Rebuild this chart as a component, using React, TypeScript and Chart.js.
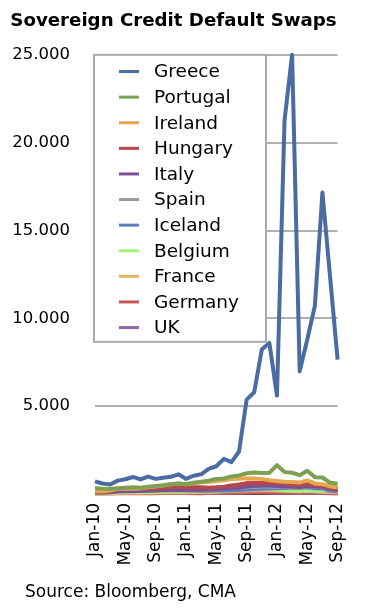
import React, { useEffect, useRef } from 'react';
import { Chart, registerables } from 'chart.js';

Chart.register(...registerables);

const FONT = '"DejaVu Sans", "Liberation Sans", Arial, sans-serif';

const monthNames = ['Jan', 'Feb', 'Mar', 'Apr', 'May', 'Jun', 'Jul', 'Aug', 'Sep', 'Oct', 'Nov', 'Dec'];
const yearSuffixes = ['10', '11', '12'];
const monthCount = 33; // Jan-10 .. Sep-12

const categories: string[] = [];
for (const y of yearSuffixes) {
  for (const m of monthNames) {
    if (categories.length < monthCount) categories.push(`${m}-${y}`);
  }
}

const tickLabels = ['Jan-10', 'May-10', 'Sep-10', 'Jan-11', 'May-11', 'Sep-11', 'Jan-12', 'May-12', 'Sep-12'];

const seriesNames = ['Greece', 'Portugal', 'Ireland', 'Hungary', 'Italy', 'Spain', 'Iceland', 'Belgium', 'France', 'Germany', 'UK'];
const seriesColors = ['#4A6CA3', '#7DA053', '#E6A84E', '#B84847', '#7A5196', '#9A9A9A', '#5A7FBF', '#A0F57D', '#E9B46A', '#C6585A', '#8D67A8'];

const greece = [720, 600, 540, 760, 840, 970, 830, 990, 860, 930, 980, 1120, 860, 1040, 1120, 1430, 1580, 2000, 1810, 2420, 5370, 5790, 8220, 8600, 5600, 21260, 25000, 6980, 8800, 10700, 17170, 12400, 7650];
const portugal = [330, 300, 280, 330, 360, 380, 360, 420, 460, 500, 560, 600, 560, 640, 700, 760, 850, 880, 1000, 1060, 1180, 1220, 1200, 1200, 1640, 1250, 1210, 1070, 1320, 960, 940, 640, 580];
const ireland = [150, 160, 200, 300, 320, 300, 320, 380, 420, 480, 550, 600, 560, 620, 660, 700, 740, 780, 850, 870, 900, 880, 860, 780, 740, 700, 680, 650, 780, 600, 560, 430, 380];
const hungary = [100, 120, 150, 300, 330, 330, 300, 310, 330, 360, 380, 420, 380, 380, 380, 360, 380, 420, 480, 540, 620, 640, 620, 660, 640, 600, 560, 520, 600, 500, 480, 360, 280];
const italy = [80, 90, 100, 140, 160, 150, 170, 180, 200, 210, 230, 240, 220, 230, 240, 260, 270, 300, 330, 360, 420, 460, 480, 500, 460, 430, 420, 400, 470, 420, 400, 300, 220];
const spain = [100, 100, 110, 150, 180, 200, 190, 200, 220, 230, 240, 280, 250, 240, 250, 260, 270, 290, 320, 340, 380, 400, 420, 430, 400, 380, 360, 370, 450, 400, 380, 280, 200];
const iceland = [260, 250, 230, 240, 250, 260, 250, 250, 240, 230, 220, 220, 210, 200, 190, 190, 200, 200, 220, 230, 260, 280, 300, 320, 330, 340, 350, 340, 380, 330, 320, 180, 150];
const belgium = [60, 70, 80, 100, 110, 120, 110, 120, 130, 140, 150, 160, 150, 150, 160, 170, 180, 200, 220, 240, 280, 300, 290, 280, 250, 220, 200, 190, 210, 190, 180, 260, 250];
const france = [40, 45, 50, 60, 70, 75, 70, 80, 90, 100, 100, 110, 100, 100, 110, 120, 130, 150, 170, 180, 200, 210, 220, 220, 200, 180, 170, 160, 190, 150, 130, 110, 100];
const germany = [30, 30, 35, 40, 45, 45, 40, 40, 45, 50, 50, 55, 50, 45, 45, 50, 55, 60, 70, 80, 90, 100, 100, 100, 90, 80, 80, 70, 90, 80, 70, 50, 40];
const uk = [70, 70, 75, 80, 80, 75, 70, 65, 65, 65, 60, 60, 55, 55, 55, 60, 65, 70, 80, 90, 100, 100, 100, 90, 80, 70, 65, 60, 70, 60, 55, 45, 40];

const seriesValues = [greece, portugal, ireland, hungary, italy, spain, iceland, belgium, france, germany, uk];

const titleText = 'Sovereign Credit Default Swaps';
const sourceText = 'Source: Bloomberg, CMA';

const formatThousands = (v: number) => String(v).replace(/\B(?=(\d{3})+(?!\d))/g, '.');

const insideLegend = {
  id: 'insideLegend',
  beforeDatasetsDraw(chart: any) {
    const { ctx, chartArea } = chart;
    const left = chartArea.left - 1;
    const top = chartArea.top;
    const w = 172;
    const h = 287;
    ctx.save();
    ctx.fillStyle = '#ffffff';
    ctx.fillRect(left, top, w, h);
    ctx.strokeStyle = '#ababab';
    ctx.lineWidth = 2;
    ctx.strokeRect(left, top, w, h);
    ctx.font = `18.5px ${FONT}`;
    ctx.textBaseline = 'middle';
    ctx.textAlign = 'left';
    chart.data.datasets.forEach((ds: any, i: number) => {
      const y = top + 16.7 + i * 25.6;
      ctx.strokeStyle = ds.borderColor;
      ctx.lineWidth = 3;
      ctx.beginPath();
      ctx.moveTo(left + 25, y);
      ctx.lineTo(left + 45, y);
      ctx.stroke();
      ctx.fillStyle = '#000000';
      ctx.fillText(ds.label, left + 60, y + 1);
    });
    ctx.restore();
  },
};

const sourceNote = {
  id: 'sourceNote',
  afterDraw(chart: any) {
    const { ctx } = chart;
    ctx.save();
    ctx.font = `17px ${FONT}`;
    ctx.fillStyle = '#000000';
    ctx.textAlign = 'left';
    ctx.textBaseline = 'alphabetic';
    ctx.fillText(sourceText, 25, 597);
    ctx.restore();
  },
};

export default function App() {
  const canvasRef = useRef<HTMLCanvasElement | null>(null);

  useEffect(() => {
    document.body.style.margin = '0';
    const canvas = canvasRef.current;
    if (!canvas) return;
    const chart = new Chart(canvas, {
      type: 'line',
      data: {
        labels: categories,
        datasets: seriesNames.map((name, i) => ({
          label: name,
          data: seriesValues[i],
          borderColor: seriesColors[i],
          backgroundColor: seriesColors[i],
          borderWidth: 4,
          pointRadius: 0,
          pointHoverRadius: 0,
          tension: 0,
          fill: false,
          clip: false as any,
          borderJoinStyle: 'round' as const,
        })),
      },
      options: {
        responsive: false,
        animation: false,
        devicePixelRatio: 1,
        layout: { padding: { left: 0, right: 20, top: 0, bottom: 45 } },
        plugins: {
          legend: { display: false },
          tooltip: { enabled: false },
          title: {
            display: true,
            text: titleText,
            color: '#000000',
            font: { family: FONT, size: 18.2, weight: 'bold' },
            padding: { top: 10.5, bottom: 22.5 },
          },
        },
        scales: {
          x: {
            type: 'category',
            offset: false,
            grid: { display: false, drawTicks: false },
            border: { display: true, color: '#333333', width: 1 },
            ticks: {
              autoSkip: false,
              minRotation: 90,
              maxRotation: 90,
              padding: 9,
              color: '#000000',
              font: { family: FONT, size: 17 },
              callback: (_v: any, idx: number) => (tickLabels.includes(categories[idx]) ? categories[idx] : null),
            },
            afterFit: (scale: any) => {
              scale.height = 76;
            },
          },
          y: {
            min: 0,
            max: 25000,
            grid: { color: '#b0b0b0', lineWidth: 2, drawTicks: false },
            border: { display: false },
            ticks: {
              stepSize: 5000,
              padding: 25,
              color: '#000000',
              font: { family: FONT, size: 16.5 },
              callback: (v: any) => (Number(v) === 0 ? '' : formatThousands(Number(v))),
            },
            afterFit: (scale: any) => {
              scale.width = 95;
            },
          },
        },
      },
      plugins: [insideLegend, sourceNote],
    });
    return () => chart.destroy();
  }, []);

  return (
    <div style={{ width: 367, height: 615, background: '#ffffff' }}>
      <canvas ref={canvasRef} width={367} height={615} style={{ display: 'block' }} />
    </div>
  );
}
